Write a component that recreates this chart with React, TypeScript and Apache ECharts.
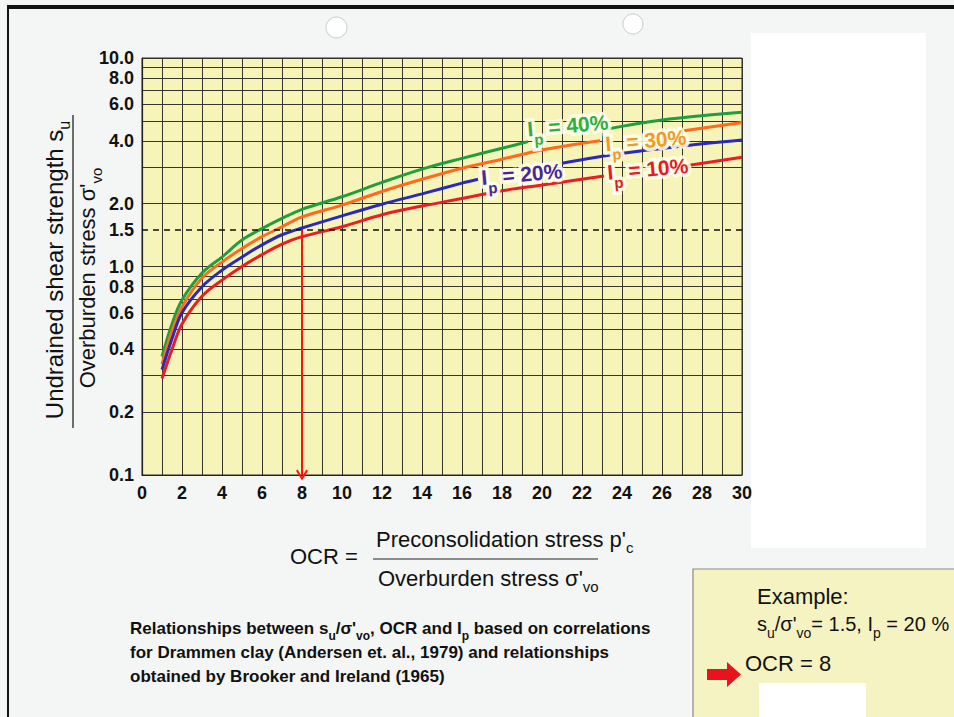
import React, { useEffect, useRef } from 'react';
import * as echarts from 'echarts';

const FONT = '"Liberation Sans", Arial, Helvetica, sans-serif';
const PAGE_BG = '#f3f6f4';
const PLOT_BG = '#f7f4b9';

// axes
const xMin = 0;
const xMax = 30;
const xLabelStep = 2;
const yMin = 0.1;
const yMax = 10;
const yLabelValues = [0.1, 0.2, 0.4, 0.6, 0.8, 1.0, 1.5, 2.0, 4.0, 6.0, 8.0, 10.0];
const yGridValues = [0.1, 0.2, 0.3, 0.4, 0.5, 0.6, 0.7, 0.8, 0.9, 1, 2, 3, 4, 5, 6, 7, 8, 9, 10];

// curves: [OCR, su/sigma'vo]; ['-','-'] = gap where the label sits
const ip40 = [[1, 0.37], [1.5, 0.53], [2, 0.69], [3, 0.93], [4, 1.11], [5, 1.34], [6, 1.52], [7, 1.70], [8, 1.88], [10, 2.16], [12, 2.53], [14, 2.93], [16, 3.30], [18, 3.69], [19.3, 3.97], ['-', '-'], [23.2, 4.55], [26, 5.04], [30, 5.49]];
const ip30 = [[1, 0.34], [1.5, 0.49], [2, 0.64], [3, 0.88], [4, 1.05], [5, 1.22], [6, 1.39], [7, 1.55], [8, 1.73], [10, 1.97], [12, 2.29], [14, 2.62], [16, 2.96], [18, 3.27], [20, 3.62], [22.9, 4.01], ['-', '-'], [27.1, 4.48], [30, 4.91]];
const ip20 = [[1, 0.32], [1.5, 0.45], [2, 0.60], [3, 0.80], [4, 0.96], [5, 1.11], [6, 1.27], [7, 1.42], [8, 1.53], [10, 1.75], [12, 1.99], [14, 2.23], [16, 2.51], [16.8, 2.62], ['-', '-'], [21, 3.13], [24, 3.49], [27, 3.78], [30, 4.04]];
const ip10 = [[1, 0.29], [1.5, 0.40], [2, 0.53], [3, 0.72], [4, 0.86], [5, 1.0], [6, 1.14], [7, 1.28], [8, 1.39], [10, 1.55], [12, 1.77], [14, 1.95], [16, 2.12], [18, 2.31], [20, 2.46], [23.1, 2.72], ['-', '-'], [27.2, 3.04], [30, 3.34]];

const curveNames = ['Ip = 40%', 'Ip = 30%', 'Ip = 20%', 'Ip = 10%'];
const curveColors = ['#1e9e3c', '#ff6a1c', '#2a2ab8', '#ec1c24'];

// in-chart curve labels
const labelText = ['40%', '30%', '20%', '10%'];
const labelX = [21.3, 25.2, 19.0, 25.3];
const labelY = [4.62, 3.92, 2.7, 2.86];
const labelColors = ['#2fae43', '#f09a1e', '#4a2596', '#e41b25'];

// worked example
const exampleOcr = 8;
const exampleRatio = 1.5;

const GLOW = 'rgba(255,255,236,0.9)';

function ipRich(c: string, glow: boolean) {
  const base: any = {
    fontSize: 21,
    lineHeight: 26,
    verticalAlign: 'top',
    color: c,
    opacity: 1,
    fontFamily: FONT,
    fontWeight: 'bold',
  };
  if (glow) {
    base.textBorderColor = c;
    base.textBorderWidth = 7;
  }
  return {
    i: base,
    t: base,
    s: { ...base, fontSize: 15, lineHeight: 15, padding: [14, 0, 0, 0] },
  };
}

function zrRich(size: number, weight: string, subSize: number, drop: number, color = '#111') {
  const m = { fontSize: size, lineHeight: size + 4, verticalAlign: 'top', fontFamily: FONT, fontWeight: weight, fill: color };
  return {
    m,
    s: { ...m, fontSize: subSize, lineHeight: subSize, padding: [drop, 0, 0, 0] },
  };
}

function textEl(x: number, y: number, text: string, size: number, weight = 'normal', subSize = 13, drop = 12, rotation = 0, align = 'left') {
  return {
    type: 'text',
    x,
    y,
    rotation,
    silent: true,
    style: {
      text,
      rich: zrRich(size, weight, subSize, drop),
      fontSize: size,
      fontFamily: FONT,
      fontWeight: weight,
      fill: '#111',
      align,
      textAlign: align,
      verticalAlign: 'middle',
      textVerticalAlign: 'middle',
    },
  };
}

function labelSeriesFor(glow: boolean, z: number) {
  return {
    type: 'scatter',
    symbolSize: 1,
    itemStyle: { opacity: 0 },
    silent: true,
    z,
    data: labelText.map((t, i) => {
      const c = glow ? GLOW : labelColors[i];
      return {
        value: [labelX[i], labelY[i]],
        name: t,
        label: { rich: ipRich(c, glow), color: c, opacity: 1 },
      };
    }),
    label: {
      show: true,
      position: 'inside',
      rotate: 5,
      opacity: 1,
      formatter: (p: any) => `{i|I}{s|p}{t| = ${p.name}}`,
    },
  };
}

export default function App() {
  const ref = useRef<HTMLDivElement>(null);

  useEffect(() => {
    if (!ref.current) return;
    const chart = echarts.init(ref.current, undefined, { renderer: 'svg' });

    const curveData = [ip40, ip30, ip20, ip10];
    const lineSeries: any[] = curveData.map((d, i) => ({
      name: curveNames[i],
      type: 'line',
      data: d,
      smooth: 0.35,
      symbol: 'none',
      showSymbol: false,
      connectNulls: false,
      silent: true,
      z: 3,
      lineStyle: { width: 3, color: curveColors[i] },
    }));

    // example guides on Ip = 20% series
    lineSeries[2].markLine = {
      silent: true,
      animation: false,
      label: { show: false },
      symbol: ['none', 'none'],
      data: [
        [
          { coord: [xMin, exampleRatio], lineStyle: { type: [6, 5], color: '#111', width: 1.6 }, symbol: 'none' },
          { coord: [xMax, exampleRatio], symbol: 'none' },
        ],
        [
          { coord: [exampleOcr, exampleRatio], lineStyle: { type: 'solid', color: '#ff1414', width: 2 }, symbol: 'none' },
          {
            coord: [exampleOcr, yMin],
            symbol: 'path://M5,0 L10,8 L8.6,9 L5,3 L1.4,9 L0,8 Z',
            symbolSize: [12, 11],
          },
        ],
      ],
    };

    const graphics: any[] = [
      // frame of the scanned sheet
      { type: 'rect', silent: true, shape: { x: 7, y: 5, width: 947, height: 4 }, style: { fill: '#121212' } },
      { type: 'rect', silent: true, shape: { x: 7, y: 5, width: 2, height: 712 }, style: { fill: '#121212' } },
      // punch holes
      { type: 'circle', silent: true, shape: { cx: 336.5, cy: 27.5, r: 10.5 }, style: { fill: '#ffffff', stroke: '#c9cccb', lineWidth: 1 } },
      { type: 'circle', silent: true, shape: { cx: 633, cy: 24, r: 10 }, style: { fill: '#ffffff', stroke: '#c9cccb', lineWidth: 1 } },
      // y axis title (fraction)
      textEl(56, 270, '{m|Undrained shear strength s}{s|u}', 24, 'normal', 16, 14, Math.PI / 2, 'center'),
      { type: 'line', silent: true, shape: { x1: 73, y1: 115, x2: 73, y2: 428 }, style: { stroke: '#222', lineWidth: 1.3 } },
      textEl(89, 278, "{m|Overburden stress σ'}{s|vo}", 22, 'normal', 15, 13, Math.PI / 2, 'center'),
      // OCR formula
      textEl(290, 558, '{m|OCR =}', 22),
      textEl(376, 541, "{m|Preconsolidation stress p'}{s|c}", 22, 'normal', 15, 12),
      { type: 'line', silent: true, shape: { x1: 373, y1: 559, x2: 598, y2: 559 }, style: { stroke: '#222', lineWidth: 1.2 } },
      textEl(378, 580, "{m|Overburden stress σ'}{s|vo}", 22, 'normal', 15, 12),
      // caption
      textEl(130, 630, "{m|Relationships between s}{s|u}{m|/σ'}{s|vo}{m|, OCR and I}{s|p}{m| based on correlations}", 17, 'bold', 12, 10),
      textEl(130, 654, '{m|for Drammen clay (Andersen et. al., 1979) and relationships}', 17, 'bold'),
      textEl(130, 678, '{m|obtained by Brooker and Ireland (1965)}', 17, 'bold'),
      // white redaction patch at right
      { type: 'rect', silent: true, shape: { x: 751, y: 33, width: 175, height: 515 }, style: { fill: '#ffffff' } },
      // example box
      { type: 'rect', silent: true, shape: { x: 693, y: 569, width: 270, height: 160 }, style: { fill: '#f6f3c3', stroke: '#8a8a80', lineWidth: 1.2 } },
      textEl(757, 598, '{m|Example:}', 22),
      textEl(757, 626, "{m|s}{s|u}{m|/σ'}{s|vo}{m|= 1.5, I}{s|p}{m| = 20 %}", 20, 'normal', 14, 12),
      textEl(745, 665, '{m|OCR = 8}', 22),
      {
        type: 'polygon',
        silent: true,
        shape: { points: [[707, 669], [727, 669], [727, 662], [741, 674.5], [727, 687], [727, 680], [707, 680]] },
        style: { fill: '#e8141c' },
      },
      { type: 'rect', silent: true, shape: { x: 759, y: 683, width: 107, height: 40 }, style: { fill: '#ffffff' } },
    ];

    const option: any = {
      animation: false,
      backgroundColor: PAGE_BG,
      textStyle: { fontFamily: FONT },
      grid: {
        left: 142,
        right: 212,
        top: 58,
        bottom: 242,
        show: true,
        backgroundColor: PLOT_BG,
        borderColor: '#2b2b2b',
        borderWidth: 1,
        containLabel: false,
      },
      xAxis: {
        type: 'value',
        min: xMin,
        max: xMax,
        interval: 1,
        axisLine: { show: true, lineStyle: { color: '#222', width: 1.2 } },
        axisTick: { show: false },
        splitLine: { show: true, lineStyle: { color: '#35352c', width: 1 } },
        axisLabel: {
          formatter: (v: number) => (v % xLabelStep === 0 ? String(v) : ''),
          fontSize: 18,
          fontWeight: 'bold',
          color: '#111',
          fontFamily: FONT,
          margin: 9,
        },
      },
      yAxis: {
        type: 'log',
        logBase: 10,
        min: yMin,
        max: yMax,
        axisLine: { show: true, lineStyle: { color: '#222', width: 1.2 } },
        axisTick: { show: false, customValues: yGridValues },
        minorTick: { show: false },
        splitLine: { show: true, lineStyle: { color: '#35352c', width: 1 } },
        axisLabel: {
          customValues: yLabelValues,
          formatter: (v: number) => Number(v).toFixed(1),
          fontSize: 18,
          fontWeight: 'bold',
          color: '#111',
          fontFamily: FONT,
          margin: 8,
        },
      },
      series: [...lineSeries, labelSeriesFor(true, 5), labelSeriesFor(false, 6)],
      graphic: { elements: graphics },
    };

    chart.setOption(option);
    return () => chart.dispose();
  }, []);

  return (
    <div
      ref={ref}
      style={{ position: 'absolute', left: 0, top: 0, width: 954, height: 717, background: PAGE_BG }}
    />
  );
}
